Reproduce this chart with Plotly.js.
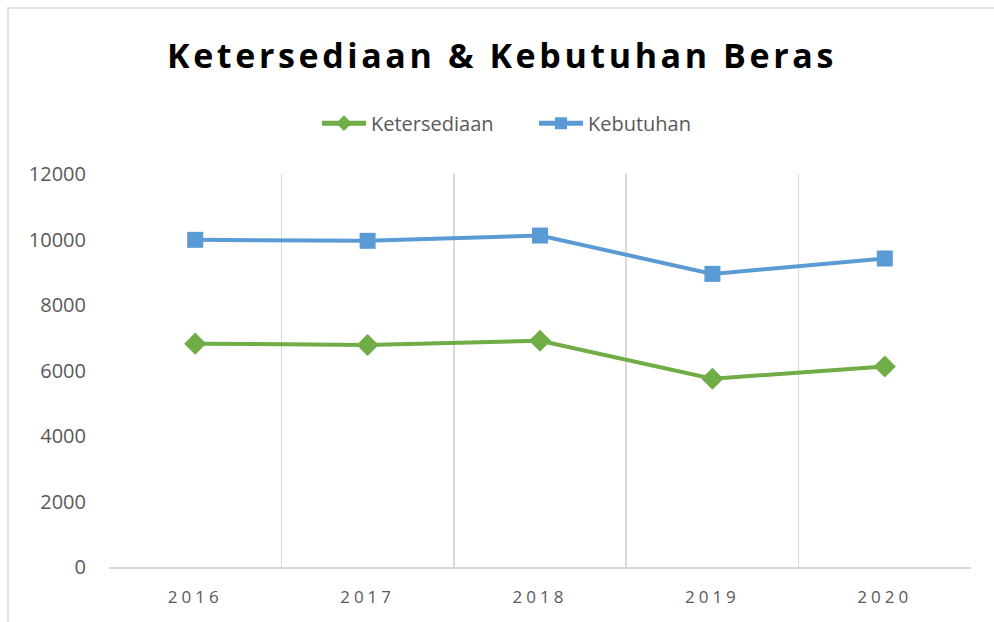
<!DOCTYPE html>
<html>
<head>
<meta charset="utf-8">
<script src="https://cdn.plot.ly/plotly-3.0.1.min.js"></script>
<style>
html,body{margin:0;padding:0;background:#fff;}
#chart{width:994px;height:622px;}
.gtitle{letter-spacing:3.6px;}
.xtick text{letter-spacing:4px;}
</style>
</head>
<body>
<div id="chart"></div>
<script>
var years = ["2016", "2017", "2018", "2019", "2020"];
var ketersediaan = [6820, 6780, 6910, 5750, 6120];
var kebutuhan = [9990, 9960, 10120, 8950, 9420];
var yTicks = [0, 2000, 4000, 6000, 8000, 10000, 12000];

var traces = [
  {
    x: years, y: ketersediaan, name: "Ketersediaan", type: "scatter", mode: "lines+markers",
    line: {color: "#70AD47", width: 4},
    marker: {symbol: "diamond", size: 17, color: "#70AD47"}
  },
  {
    x: years, y: kebutuhan, name: "Kebutuhan", type: "scatter", mode: "lines+markers",
    line: {color: "#5B9BD5", width: 4},
    marker: {symbol: "square", size: 16, color: "#5B9BD5"}
  }
];

var layout = {
  width: 994, height: 622,
  margin: {l: 109, r: 23, t: 174, b: 55},
  paper_bgcolor: "#ffffff", plot_bgcolor: "#ffffff",
  font: {family: "Open Sans, sans-serif", color: "#595959"},
  title: {
    text: "<b>Ketersediaan & Kebutuhan Beras</b>",
    font: {family: "Open Sans, sans-serif", size: 34, color: "#000000"},
    xref: "container", x: 0.505, xanchor: "center",
    yref: "container", y: 0.91, yanchor: "middle"
  },
  showlegend: true,
  legend: {
    orientation: "h", xref: "paper", x: 0.493, xanchor: "center",
    yref: "container", y: 0.802, yanchor: "middle",
    font: {size: 20, color: "#595959", family: "Open Sans, sans-serif"},
    itemwidth: 44, itemsizing: "constant",
    entrywidth: 158, entrywidthmode: "pixels"
  },
  xaxis: {
    type: "category", tickson: "boundaries", range: [-0.5, 4.5],
    showgrid: true, gridcolor: "#d9d9d9", gridwidth: 1.5,
    showline: true, linecolor: "#d9d9d9", linewidth: 1.5,
    ticks: "", tickfont: {size: 17, color: "#595959"}, ticklabelstandoff: 14,
    zeroline: false, fixedrange: true
  },
  yaxis: {
    range: [0, 12000], tickvals: yTicks, ticktext: yTicks.map(String),
    showgrid: false, zeroline: false, showline: false, ticks: "",
    tickfont: {size: 20, color: "#595959"}, ticklabelstandoff: 22,
    fixedrange: true
  },
  shapes: [
    {type: "rect", xref: "paper", yref: "paper",
     x0: -101/862, x1: 1.5, y0: -0.5, y1: 1 + 166/393,
     line: {color: "#d9d9d9", width: 1.5}, fillcolor: "rgba(0,0,0,0)", layer: "below"}
  ]
};

Plotly.newPlot("chart", traces, layout, {displayModeBar: false, staticPlot: true});
</script>
</body>
</html>
